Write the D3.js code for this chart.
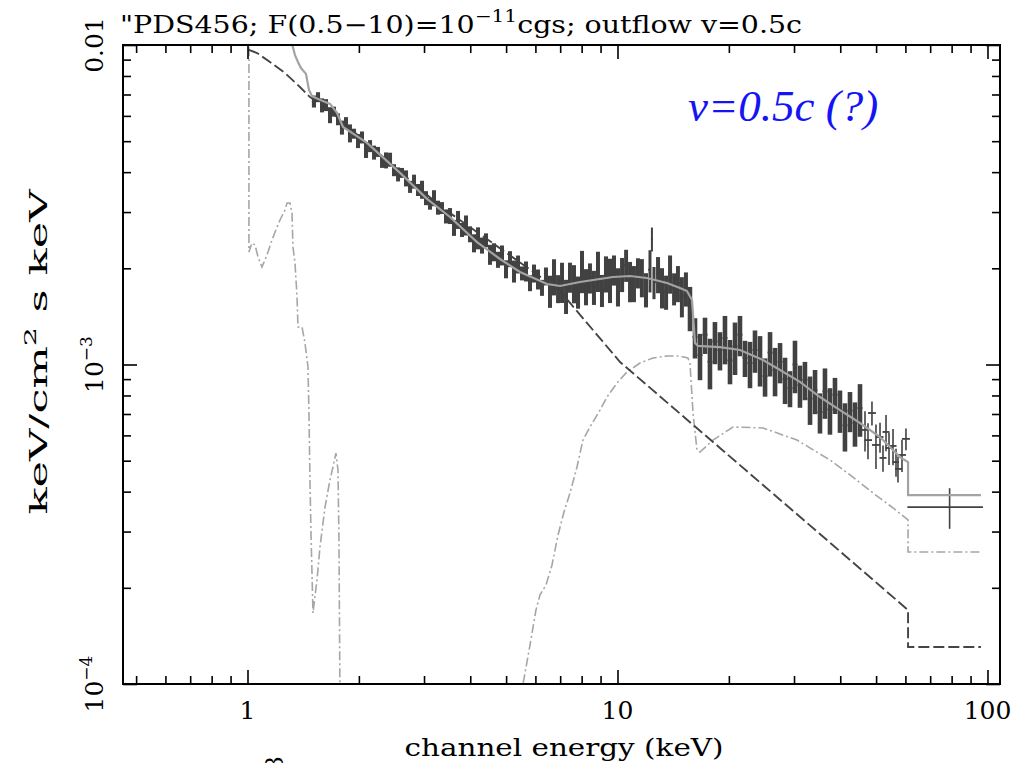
<!DOCTYPE html>
<html><head><meta charset="utf-8">
<script src="https://cdn.jsdelivr.net/npm/d3@7"></script>
<style>body{margin:0;background:#fff}svg{display:block}</style>
</head><body>
<svg id="chart" width="1032" height="763"></svg>
<script>
// ---------- DATA (energy in keV, flux in units of 1e-3 keV^2 / (cm^2 s keV)) ----------
const FLUX_UNIT = 1e-3;

const dataE = [
1.512,1.551,1.590,1.630,1.671,1.713,1.756,1.800,1.846,1.892,
1.940,1.989,2.039,2.091,2.144,2.198,2.253,2.310,2.368,2.428,
2.489,2.552,2.616,2.682,2.750,2.819,2.890,2.963,3.037,3.114,
3.192,3.273,3.355,3.440,3.526,
3.615,3.707,3.800,3.896,3.994,4.095,4.198,4.303,4.412,4.523,
4.637,4.754,4.873,4.996,5.123,5.252,5.385,5.520,5.659,5.801,
5.947,6.097,6.250,6.408,
6.571,6.737,6.908,7.081,7.260,7.440,7.627,7.822,8.019,8.221,
8.426,8.638,8.856,9.079,9.308,9.544,9.785,10.03,10.29,10.55,
10.81,11.08,11.36,11.64,11.94,12.24,12.39,12.55,12.87,13.19,
13.53,13.87,14.22,14.57,14.93,15.31,15.70,
16.20,16.71,17.24,17.78,18.34,18.92,19.52,20.14,20.78,21.43,
22.11,22.81,23.53,24.28,25.05,25.84,26.66,27.50,28.37,29.26,
30.18,31.13,32.11,33.14,34.19,35.26,36.37,37.52,38.71,39.93,
41.19,42.50,43.84,45.23,
46.66,47.54,48.73,49.96,51.23,52.19,53.18,54.18,55.55,56.59,
57.29,58.74,60.21,
79.0];
const dataF = [
6.66,6.87,6.48,6.49,6.04,6.19,5.86,5.52,5.70,5.30,
5.28,5.01,5.14,4.70,4.83,4.61,4.63,4.31,4.36,4.38,
4.06,3.94,3.98,3.83,3.60,3.74,3.52,3.53,3.32,3.19,
3.32,3.10,3.09,2.91,2.92,
2.68,2.84,2.64,2.73,2.56,2.40,2.49,2.36,2.45,2.21,
2.25,2.13,2.20,1.99,2.14,1.96,2.06,1.93,1.96,1.80,
1.93,1.85,1.74,1.89,
1.70,1.89,1.73,1.82,1.64,1.88,1.80,1.69,1.97,1.76,
1.87,1.75,1.97,1.71,1.93,1.85,1.98,1.76,1.92,2.05,
1.83,1.80,1.94,1.88,1.72,1.98,2.47,1.81,1.92,1.75,
1.69,1.93,1.73,1.80,1.64,1.73,1.51,
1.22,1.07,1.24,1.02,1.18,1.11,1.21,1.03,1.14,1.24,
1.05,1.01,1.11,1.04,0.919,1.09,0.961,1.02,0.901,0.844,
1.00,0.862,0.896,0.782,0.830,0.710,0.824,0.723,0.804,0.720,
0.645,0.717,0.657,0.731,
0.624,0.580,0.705,0.560,0.593,0.510,0.615,0.548,0.556,0.495,
0.471,0.521,0.585,
0.358];
const dataErr = [
0.288,0.247,0.327,0.280,0.348,0.223,0.253,0.278,0.246,0.343,
0.190,0.253,0.222,0.271,0.209,0.232,0.167,0.186,0.251,0.221,
0.175,0.199,0.143,0.221,0.156,0.188,0.152,0.229,0.167,0.138,
0.191,0.156,0.133,0.147,0.168,
0.154,0.184,0.133,0.197,0.147,0.156,0.197,0.136,0.123,0.159,
0.146,0.123,0.158,0.129,0.123,0.155,0.133,0.097,0.141,0.104,
0.125,0.133,0.100,0.122,
0.196,0.245,0.174,0.262,0.201,0.203,0.246,0.195,0.298,0.228,
0.202,0.214,0.284,0.197,0.250,0.293,0.214,0.241,0.235,0.236,
0.264,0.233,0.210,0.257,0.211,0.299,0.213,0.209,0.249,0.252,
0.207,0.264,0.199,0.233,0.236,0.212,0.239,
0.176,0.177,0.161,0.184,0.178,0.152,0.209,0.163,0.213,0.179,
0.136,0.167,0.168,0.187,0.126,0.173,0.166,0.147,0.149,0.109,
0.187,0.130,0.123,0.135,0.131,0.102,0.148,0.120,0.104,0.109,
0.111,0.103,0.104,0.137,
0.090,0.075,0.061,0.089,0.064,0.048,0.080,0.063,0.072,0.050,
0.044,0.060,0.046,
0.052];
const lastBinEdges = [61.5, 96.0];

// total model (solid light grey)
const modelE = [1.311,1.344,1.369,1.395,1.439,1.466,1.494,1.551,1.671,1.746,
1.812,2.104,2.584,3.056,3.526,4.172,4.813,5.452,6.450,6.994,
7.920,9.723,10.81,12.01,13.61,14.75,15.41,15.90,16.20,16.50,
18.92,21.43,24.74,27.50,31.13,35.26,39.93,45.23,51.23,55.54,
58.01,61.0,61.0,96.0];
const modelF = [10.37,9.30,8.85,8.47,8.12,7.23,6.92,6.78,6.54,6.13,
5.54,4.94,3.98,3.30,2.895,2.417,2.139,1.948,1.786,1.761,
1.812,1.879,1.892,1.865,1.799,1.736,1.698,1.592,1.168,1.143,
1.134,1.110,1.033,0.961,0.882,0.791,0.720,0.656,0.593,0.540,
0.513,0.495,0.390,0.390];

// power-law component (dark dashed)
const powE = [1.009,1.061,1.150,1.263,1.386,1.475,1.640,1.778,3.314,6.950,10.16,18.92,35.25,61.0,61.0,96.0];
const powF = [9.65,9.44,8.85,8.17,7.39,6.87,6.35,5.83,3.134,1.711,1.018,0.548,0.2948,0.1704,0.1305,0.1305];

// reflection / hard component (grey dash-dot)
const reflE = [5.486,5.555,5.801,6.021,6.173,6.408,6.653,6.906,7.168,7.440,
7.771,8.067,8.426,8.967,9.367,9.968,10.61,11.50,12.47,13.61,
14.75,15.50,15.70,16.00,16.40,16.71,18.12,20.52,24.74,30.56,
37.52,43.30,49.05,55.54,61.0,61.0,96.0];
const reflF = [0.0891,0.100,0.1324,0.1704,0.190,0.2041,0.2358,0.2926,0.3453,0.396,
0.4777,0.580,0.6374,0.720,0.791,0.875,0.9474,1.011,1.048,1.063,
1.063,1.048,1.011,0.705,0.540,0.532,0.580,0.6374,0.633,0.580,
0.5025,0.4444,0.396,0.3556,0.3262,0.2589,0.2589];

// soft component (grey dash-dot)
const softE = [1.009,1.009,1.028,1.048,1.068,1.094,1.115,1.136,1.165,1.187,
1.224,1.263,1.279,1.303,1.319,1.327,1.344,1.361,1.369,1.404,
1.430,1.457,1.466,1.475,1.484,1.503,1.541,1.570,1.620,1.671,
1.702,1.734,1.756,1.767,1.778];
const softF = [11.14,2.249,2.400,2.366,2.170,2.020,2.124,2.249,2.454,2.598,
2.833,3.045,3.203,3.203,2.980,2.332,2.078,1.627,1.310,1.310,
1.168,0.982,0.705,0.435,0.3034,0.1668,0.2116,0.2685,0.358,0.435,
0.4777,0.528,0.4675,0.2823,0.0891];

// axes
const xDomain = [0.4608, 108.1];
const yDomain = [1e-4, 1e-2];
const xMajorTicks = [1, 10, 100];
const xTickLabels = ["1", "10", "100"];
const yMajorTicks = [1e-4, 1e-3, 1e-2];

// ---------- DRAW ----------
const L = 123, R = 1000, T = 45, B = 684;
const svg = d3.select('#chart');
const x = d3.scaleLog().domain(xDomain).range([L, R]);
const y = d3.scaleLog().domain(yDomain).range([B, T]);
const FONT = 'DejaVu Serif';

svg.append('rect').attr('width',1032).attr('height',763).attr('fill','#fff');

svg.append('defs').append('clipPath').attr('id','plotclip')
  .append('rect').attr('x',L).attr('y',T).attr('width',R-L).attr('height',B-T);
const plot = svg.append('g').attr('clip-path','url(#plotclip)');

const line = d3.line().x(d => x(d[0])).y(d => y(d[1]*FLUX_UNIT));
const zip = (a,b) => a.map((v,i)=>[v,b[i]]);

// soft component
plot.append('path').datum(zip(softE,softF)).attr('d',line)
  .attr('fill','none').attr('stroke','#a6a6a6').attr('stroke-width',1.6)
  .attr('stroke-dasharray','9,3,2,3');
// reflection component
plot.append('path').datum(zip(reflE,reflF)).attr('d',line)
  .attr('fill','none').attr('stroke','#a6a6a6').attr('stroke-width',1.6)
  .attr('stroke-dasharray','9,3,2,3');
// power law
plot.append('path').datum(zip(powE,powF)).attr('d',line)
  .attr('fill','none').attr('stroke','#454545').attr('stroke-width',1.9)
  .attr('stroke-dasharray','11,4');

// data error bars
const dg = plot.append('g').attr('stroke','#414141');
const nD = dataE.length;
dataE.forEach((e,i) => {
  const f = dataF[i]*FLUX_UNIT, er = dataErr[i]*FLUX_UNIT;
  let lo, hi;
  if (i === nD-1) { lo = lastBinEdges[0]; hi = lastBinEdges[1]; }
  else {
    const prev = i>0 ? dataE[i-1] : e*e/dataE[i+1];
    const next = (i < nD-2) ? dataE[i+1] : e*e/dataE[i-1];
    lo = Math.sqrt(prev*e); hi = Math.sqrt(e*next);
  }
  const spacing = x(hi) - x(lo);
  const sw = (e > 46) ? 1.6 : Math.max(1.8, Math.min(4.6, spacing));
  dg.append('line').attr('stroke-width',sw)
    .attr('x1',x(e)).attr('x2',x(e)).attr('y1',y(f-er)).attr('y2',y(f+er));
  dg.append('line').attr('stroke-width',1.8)
    .attr('x1',x(lo) - (e > 46 ? 2 : 0)).attr('x2',x(hi) + (e > 46 ? 2 : 0))
    .attr('y1',y(f)).attr('y2',y(f));
});

// total model
plot.append('path').datum(zip(modelE,modelF)).attr('d',line)
  .attr('fill','none').attr('stroke','#a3a3a3').attr('stroke-width',2.2);

// ---------- AXES ----------
const xMinor = x.ticks().filter(v => !xMajorTicks.includes(v));
const yMinor = y.ticks().filter(v => !yMajorTicks.some(m => Math.abs(m-v)/m < 1e-6));

function ax(gen, tr, vals, size) {
  const g = svg.append('g').attr('transform', tr)
    .call(gen.tickValues(vals).tickSize(size).tickFormat(''));
  g.select('.domain').remove();
  g.selectAll('.tick line').attr('stroke','#000').attr('stroke-width',1.6);
  g.selectAll('.tick text').remove();
}
ax(d3.axisBottom(x), `translate(0,${B})`, xMinor, -8);
ax(d3.axisBottom(x), `translate(0,${B})`, xMajorTicks, -14);
ax(d3.axisTop(x), `translate(0,${T})`, xMinor, -8);
ax(d3.axisTop(x), `translate(0,${T})`, xMajorTicks, -14);
ax(d3.axisLeft(y), `translate(${L},0)`, yMinor, -8);
ax(d3.axisLeft(y), `translate(${L},0)`, yMajorTicks, -14);
ax(d3.axisRight(y), `translate(${R},0)`, yMinor, -8);
ax(d3.axisRight(y), `translate(${R},0)`, yMajorTicks, -14);

svg.append('rect').attr('x',L).attr('y',T).attr('width',R-L).attr('height',B-T)
  .attr('fill','none').attr('stroke','#000').attr('stroke-width',2);

// x tick labels
xMajorTicks.forEach((v,i) => {
  svg.append('text').attr('x',x(v)).attr('y',719).attr('text-anchor','middle')
    .attr('font-family',FONT).attr('font-size',25).attr('fill','#000').text(xTickLabels[i]);
});

// y tick labels (rotated)
function yLab(v, main, sup) {
  const t = svg.append('text').attr('transform',`translate(103,${y(v)}) rotate(-90)`)
    .attr('text-anchor','middle').attr('font-family',FONT).attr('font-size',25).attr('fill','#000');
  t.append('tspan').text(main);
  if (sup) t.append('tspan').attr('dy',-11).attr('font-size',17).text(sup);
}
yLab(1e-2, '0.01');
yLab(1e-3, '10', '−3');
yLab(1e-4, '10', '−4');

function fit(t, target, mode) {
  t.attr('textLength', target).attr('lengthAdjust', mode || 'spacingAndGlyphs');
}

// title
const title = svg.append('text').attr('x',120).attr('y',33)
  .attr('font-family',FONT).attr('font-size',24).attr('fill','#000');
title.append('tspan').text('"PDS456; F(0.5−10)=10');
title.append('tspan').attr('dy',-11).attr('font-size',17).text('−11');
title.append('tspan').attr('dy',11).text('cgs; outflow v=0.5c');
fit(title, 682);

// y axis title
const yt = svg.append('text').attr('transform','translate(47,352) rotate(-90)')
  .attr('text-anchor','middle').attr('font-family',FONT).attr('font-size',25).attr('fill','#000');
yt.append('tspan').text('keV/cm');
yt.append('tspan').attr('dy',-11).attr('font-size',17).text('2');
yt.append('tspan').attr('dy',11).text(' s keV');
fit(yt, 325);

// x axis title
const xt = svg.append('text').attr('x',564).attr('y',756).attr('text-anchor','middle')
  .attr('font-family',FONT).attr('font-size',25).attr('fill','#000').text('channel energy (keV)');
fit(xt, 319);

// stray glyph cut off at the bottom edge (as in the reference)
svg.append('text').attr('transform','translate(283,772) rotate(-90)')
  .attr('font-family',FONT).attr('font-size',25).attr('fill','#000').text('8');

// annotation
svg.append('text').attr('x',688).attr('y',121)
  .attr('font-family','Liberation Serif').attr('font-style','italic').attr('font-size',45)
  .attr('fill','#1414f5').text('v=0.5c (?)');
</script>
</body></html>
